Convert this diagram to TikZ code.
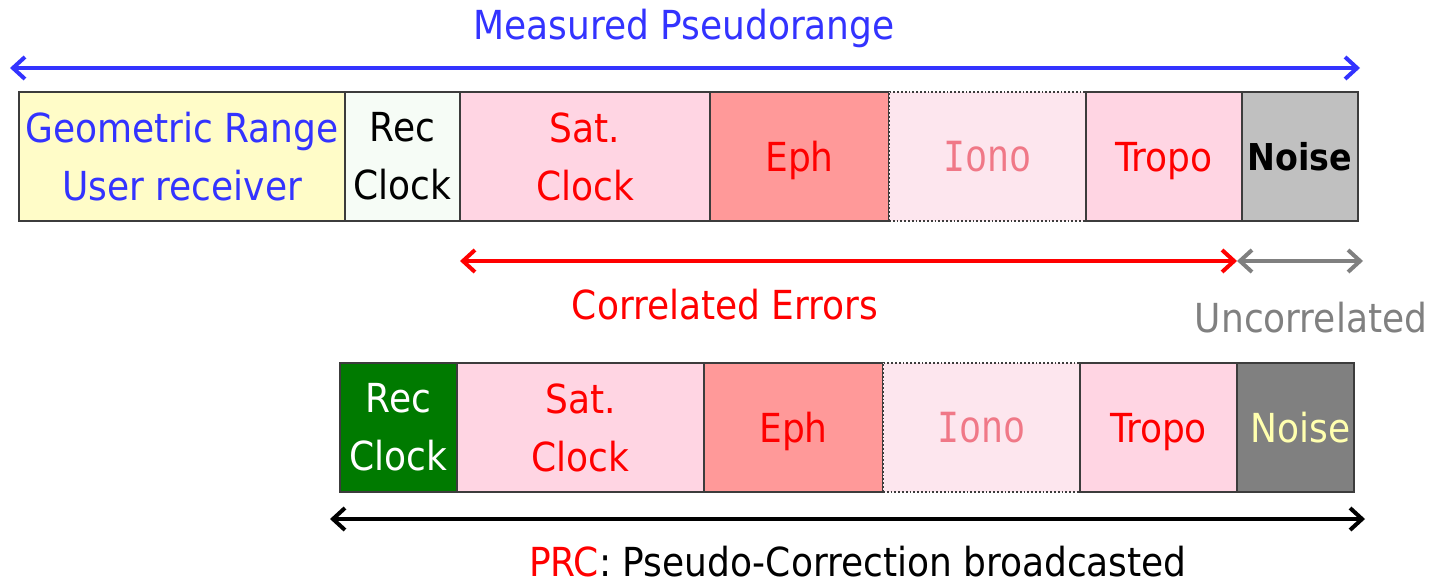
\documentclass[tikz,border=0pt]{standalone}
\usepackage{fontspec}
\setmainfont{DejaVu Sans Condensed}
\newfontfamily\ionofont{Liberation Mono}
\usetikzlibrary{arrows.meta}

\definecolor{tblue}{RGB}{51,51,255}
\definecolor{geofill}{RGB}{255,252,200}
\definecolor{recfill}{RGB}{246,252,246}
\definecolor{pinkfill}{RGB}{255,213,227}
\definecolor{ephfill}{RGB}{255,153,153}
\definecolor{ionofill}{RGB}{253,230,238}
\definecolor{ionotext}{RGB}{240,120,135}
\definecolor{noiselight}{RGB}{192,192,192}
\definecolor{noisedark}{RGB}{128,128,128}
\definecolor{recdark}{RGB}{0,122,0}
\definecolor{paleyellow}{RGB}{255,255,175}
\definecolor{uncgray}{RGB}{128,128,128}
\definecolor{boxline}{RGB}{60,60,60}

\tikzset{
  seg/.style={draw=boxline, line width=0.9pt, minimum height=64.5pt,
    inner sep=0pt, align=center, font=\fontsize{20}{29}\selectfont},
  oneline/.style={text depth=0pt},
  ionoseg/.style={seg, oneline, densely dotted, fill=ionofill, text=ionotext,
    font=\ionofont\fontsize{23}{29}\selectfont},
  span/.style={line width=2pt,
    arrows={Straight Barb[length=6pt,width=11pt]-Straight Barb[length=6pt,width=11pt]}},
  lbl/.style={anchor=base, font=\fontsize{20}{24}\selectfont}
}

\begin{document}
\begin{tikzpicture}[x=0.5pt,y=-0.5pt]
\useasboundingbox (0,0) rectangle (1433,587);

% measured pseudorange row
\node[seg, fill=geofill, text=tblue, minimum width=163pt] (geo) at (182,156.5)
  {Geometric Range\\User receiver};
\node[seg, fill=recfill, text=black, minimum width=57.5pt] (rca) at (402.5,156.5)
  {Rec\\Clock};
\node[seg, fill=pinkfill, text=red, minimum width=125pt] (sca) at (585,156.5)
  {Sat.\\Clock};
\node[seg, oneline, fill=ephfill, text=red, minimum width=89.5pt] (epha) at (799.5,156.5)
  {Eph};
\node[ionoseg, minimum width=98.5pt] (ionoa) at (987.5,156.5) {\scalebox{0.8}[1]{Iono}};
\node[seg, oneline, fill=pinkfill, text=red, minimum width=78pt] (tropoa) at (1164,156.5)
  {Tropo};
\node[seg, oneline, fill=noiselight, text=black, minimum width=58pt,
  font=\bfseries\fontsize{18.5}{28.5}\selectfont] (noisea) at (1300,156.5) {Noise};

% correction row
\node[seg, fill=recdark, text=white, minimum width=58.5pt] (rcb) at (398.5,427.5)
  {Rec\\Clock};
\node[seg, fill=pinkfill, text=red, minimum width=123.5pt] (scb) at (580.5,427.5)
  {Sat.\\Clock};
\node[seg, oneline, fill=ephfill, text=red, minimum width=89.5pt] (ephb) at (793.5,427.5)
  {Eph};
\node[ionoseg, minimum width=98.5pt] (ionob) at (981.5,427.5) {\scalebox{0.8}[1]{Iono}};
\node[seg, oneline, fill=pinkfill, text=red, minimum width=78.5pt] (tropob) at (1158.5,427.5)
  {Tropo};
\node[seg, oneline, fill=noisedark, text=paleyellow, minimum width=58.5pt] (noiseb) at (1295.5,427.5)
  {\hspace*{5pt}Noise};

% spans
\coordinate (mpL) at (10,68);
\coordinate (mpR) at (1360,68);
\coordinate (ceL) at (460,261);
\coordinate (ceR) at (1237,261);
\coordinate (ucR) at (1363,261);
\coordinate (prL) at (330,519);
\coordinate (prR) at (1365,519);

\draw[span, tblue] (mpL) -- (mpR);
\draw[span, red] (ceL) -- (ceR);
\draw[span, uncgray] (ceR) -- (ucR);
\draw[span, black] (prL) -- (prR);

% labels
\node[lbl, text=tblue] (tmp) at (684,40) {Measured Pseudorange};
\node[lbl, text=red] (tce) at (725,320) {Correlated Errors};
\node[lbl, text=uncgray] (tuc) at (1311,333) {Uncorrelated};
\node[lbl, text=black] (tprc) at (858,576) {\textcolor{red}{PRC}: Pseudo-Correction broadcasted};
\end{tikzpicture}
\end{document}
